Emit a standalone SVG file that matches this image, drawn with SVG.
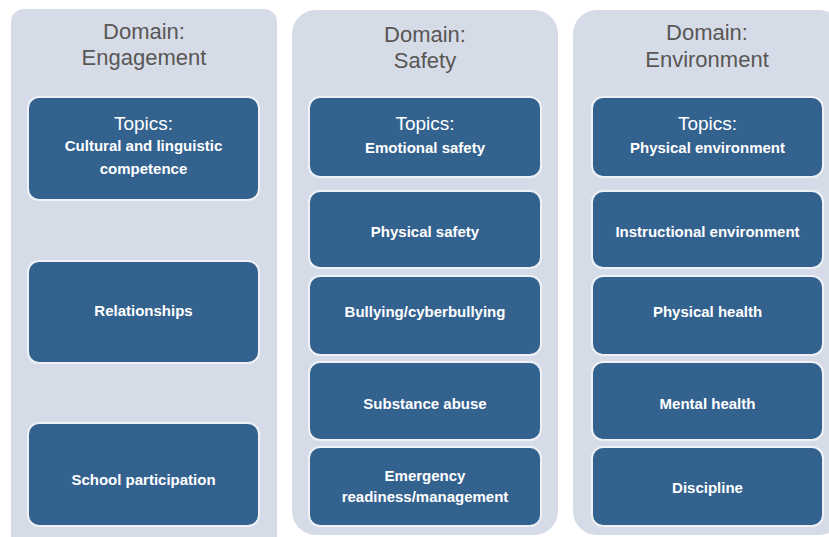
<svg xmlns="http://www.w3.org/2000/svg" width="829" height="537" viewBox="0 0 829 537">
<style>
.panel{fill:#d5dce8}
.node{fill:#34628f;stroke:#eef1f6;stroke-width:2}
.dom{font-family:"Liberation Sans",Arial,sans-serif;font-size:22px;fill:#595654;text-anchor:middle}
.top{font-family:"Liberation Sans",Arial,sans-serif;font-size:19px;fill:#ffffff;text-anchor:middle}
.lbl{font-family:"Liberation Sans",Arial,sans-serif;font-size:15px;font-weight:bold;fill:#ffffff;text-anchor:middle}
</style>
<rect width="829" height="537" fill="#ffffff"/>
<g id="domain-engagement">
<rect class="panel" x="11" y="9" width="266" height="545" rx="13"/>
<text class="dom" x="144" y="39">Domain:</text>
<text class="dom" x="144" y="65">Engagement</text>
</g>
<g id="domain-safety">
<rect class="panel" x="292" y="10" width="266" height="525" rx="24"/>
<text class="dom" x="425" y="42">Domain:</text>
<text class="dom" x="425" y="68">Safety</text>
</g>
<g id="domain-environment">
<rect class="panel" x="573" y="10" width="270" height="525" rx="24"/>
<text class="dom" x="707" y="40">Domain:</text>
<text class="dom" x="707" y="67">Environment</text>
</g>
<g id="eng-topics">
<rect class="node" x="28" y="97" width="231" height="103" rx="11"/>
<text class="top" x="143.5" y="130">Topics:</text>
<text class="lbl" x="143.5" y="151">Cultural and linguistic</text>
<text class="lbl" x="143.5" y="174">competence</text>
</g>
<g id="eng-relationships">
<rect class="node" x="28" y="261" width="231" height="102" rx="11"/>
<text class="lbl" x="143.5" y="316">Relationships</text>
</g>
<g id="eng-participation">
<rect class="node" x="28" y="423" width="231" height="103" rx="11"/>
<text class="lbl" x="143.5" y="485">School participation</text>
</g>
<g id="saf-topics">
<rect class="node" x="309" y="97" width="232" height="80" rx="11"/>
<text class="top" x="425" y="130">Topics:</text>
<text class="lbl" x="425" y="153">Emotional safety</text>
</g>
<g id="saf-physical">
<rect class="node" x="309" y="191" width="232" height="77" rx="11"/>
<text class="lbl" x="425" y="237">Physical safety</text>
</g>
<g id="saf-bullying">
<rect class="node" x="309" y="276" width="232" height="79" rx="11"/>
<text class="lbl" x="425" y="317">Bullying/cyberbullying</text>
</g>
<g id="saf-substance">
<rect class="node" x="309" y="362" width="232" height="78" rx="11"/>
<text class="lbl" x="425" y="409">Substance abuse</text>
</g>
<g id="saf-emergency">
<rect class="node" x="309" y="447" width="232" height="79" rx="11"/>
<text class="lbl" x="425" y="481">Emergency</text>
<text class="lbl" x="425" y="502">readiness/management</text>
</g>
<g id="env-topics">
<rect class="node" x="592" y="97" width="231" height="80" rx="11"/>
<text class="top" x="707.5" y="130">Topics:</text>
<text class="lbl" x="707.5" y="153">Physical environment</text>
</g>
<g id="env-instructional">
<rect class="node" x="592" y="191" width="231" height="77" rx="11"/>
<text class="lbl" x="707.5" y="237">Instructional environment</text>
</g>
<g id="env-physical-health">
<rect class="node" x="592" y="276" width="231" height="79" rx="11"/>
<text class="lbl" x="707.5" y="317">Physical health</text>
</g>
<g id="env-mental-health">
<rect class="node" x="592" y="362" width="231" height="78" rx="11"/>
<text class="lbl" x="707.5" y="409">Mental health</text>
</g>
<g id="env-discipline">
<rect class="node" x="592" y="447" width="231" height="79" rx="11"/>
<text class="lbl" x="707.5" y="493">Discipline</text>
</g>
<g id="connectors"></g>
</svg>
